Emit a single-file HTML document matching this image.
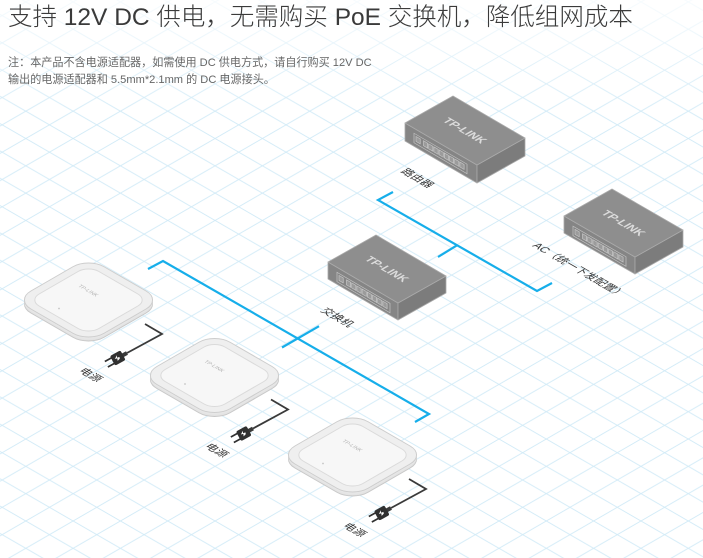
<!DOCTYPE html>
<html><head><meta charset="utf-8">
<style>
html,body{margin:0;padding:0;background:#fff;}
body{width:703px;height:558px;position:relative;overflow:hidden;font-family:"Liberation Sans","Noto Sans CJK SC",sans-serif;}
svg{position:absolute;left:0;top:0;}
.title{position:absolute;left:8px;top:1px;height:34px;line-height:34px;font-size:24.5px;font-weight:300;color:#3a3a3a;white-space:nowrap;}
.note{position:absolute;left:8px;top:54.6px;line-height:17.5px;font-size:11.1px;color:#666;white-space:nowrap;}
</style></head><body>
<svg width="703" height="558" viewBox="0 0 703 558" xmlns="http://www.w3.org/2000/svg">
<defs>
<pattern id="grid" patternUnits="userSpaceOnUse" x="25.8" y="1.9" width="47.32" height="27.32">
<g stroke="#d0eaf7" stroke-width="0.9" fill="none">
<line x1="-47.32" y1="-27.32" x2="94.64" y2="54.64"/>
<line x1="0" y1="-27.32" x2="94.64" y2="27.32"/>
<line x1="-47.32" y1="0" x2="47.32" y2="54.64"/>
<line x1="-47.32" y1="54.64" x2="94.64" y2="-27.32"/>
<line x1="-47.32" y1="27.32" x2="47.32" y2="-27.32"/>
<line x1="0" y1="54.64" x2="94.64" y2="0"/>
</g>
</pattern>
<linearGradient id="fade" x1="0" y1="0" x2="0" y2="1">
<stop offset="0" stop-color="#fff" stop-opacity="0.8"/>
<stop offset="1" stop-color="#fff" stop-opacity="0"/>
</linearGradient>
<g id="ports">
<rect x="9" y="5" width="53" height="9.5" fill="none" stroke="#c4c4c4" stroke-width="0.7"/>
<g fill="#9b9b9b" stroke="#cfcfcf" stroke-width="0.6">
<rect x="11" y="7" width="4.2" height="5"/>
<rect x="18.5" y="7" width="4.2" height="5"/>
<rect x="23.7" y="7" width="4.2" height="5"/>
<rect x="28.9" y="7" width="4.2" height="5"/>
<rect x="34.1" y="7" width="4.2" height="5"/>
<rect x="39.3" y="7" width="4.2" height="5"/>
<rect x="44.5" y="7" width="4.2" height="5"/>
<rect x="49.7" y="7" width="4.2" height="5"/>
<rect x="54.9" y="7" width="4.2" height="5"/>
</g>
</g>
<g id="ap">
<g transform="matrix(0.866,0.5,0.866,-0.5,0,4)">
<rect x="-42.25" y="-42.25" width="84.5" height="84.5" rx="18" fill="#e2e2e2" stroke="#c8c8c8" stroke-width="1" vector-effect="non-scaling-stroke"/>
</g>
<g transform="matrix(0.866,0.5,0.866,-0.5,0,3)"><rect x="-42.25" y="-42.25" width="84.5" height="84.5" rx="18" fill="#e4e4e4"/></g>
<g transform="matrix(0.866,0.5,0.866,-0.5,0,2)"><rect x="-42.25" y="-42.25" width="84.5" height="84.5" rx="18" fill="#e6e6e6"/></g>
<g transform="matrix(0.866,0.5,0.866,-0.5,0,1)"><rect x="-42.25" y="-42.25" width="84.5" height="84.5" rx="18" fill="#e8e8e8"/></g>
<g transform="matrix(0.866,0.5,0.866,-0.5,0,0)">
<rect x="-42.25" y="-42.25" width="84.5" height="84.5" rx="18" fill="#efefef" stroke="#cdcdcd" stroke-width="1" vector-effect="non-scaling-stroke"/>
<rect x="-34.5" y="-34.5" width="69" height="69" rx="12" fill="#f7f7f7" stroke="#dadada" stroke-width="1" vector-effect="non-scaling-stroke"/>
</g>
<text transform="matrix(0.866,0.5,-0.866,0.5,0,-9.5)" x="0" y="2" text-anchor="middle" font-family="Liberation Sans, sans-serif" font-size="5.5" fill="#b2b2b2">TP-LINK</text>
<circle cx="-29.5" cy="8.5" r="0.9" fill="#c4c4c4"/>
<polyline points="56.5,24 73.5,34 38.5,53" fill="none" stroke="#3a3a3a" stroke-width="1.8" stroke-linejoin="miter"/>
<g transform="translate(38.5,53) rotate(151.5)">
<rect x="0" y="-2" width="6" height="4" fill="#3a3a3a"/>
<rect x="4.5" y="-5.5" width="12" height="11" rx="2" fill="#303030"/>
<polygon points="9,-1.5 12,-2.5 11,0 13.5,0.5 10,2.8 11,0.6 8.5,0.2" fill="#fff"/>
<rect x="16" y="-4" width="7.5" height="1.7" fill="#303030"/>
<rect x="16" y="2.3" width="7.5" height="1.7" fill="#303030"/>
</g>
<text transform="matrix(0.866,0.5,-0.866,0.5,-10.5,71.3)" x="0" y="0" font-family="Liberation Sans, Noto Sans CJK SC, sans-serif" font-size="11" fill="#333">电源</text>
</g>
</defs>

<rect x="0" y="0" width="703" height="558" fill="url(#grid)"/>
<rect x="0" y="0" width="703" height="110" fill="url(#fade)"/>

<!-- blue connection lines -->
<g stroke="#16aeea" stroke-width="2.2" fill="none" stroke-linejoin="miter">
<polyline points="393,192 378,200 537,291 552,283"/>
<line x1="457" y1="245.3" x2="438" y2="257"/>
<polyline points="148,269 163,261 429,414 415,422"/>
<line x1="282" y1="347.5" x2="319" y2="326.2"/>
</g>

<!-- Router -->
<g stroke="#aaaaaa" stroke-width="0.8" stroke-linejoin="round">
<polygon points="405,123 477,165 477,183 405,141" fill="#858585"/>
<polygon points="477,165 525,138 525,156 477,183" fill="#7c7c7c"/>
<polygon points="405,123 453,96 525,138 477,165" fill="#8e8e8e"/>
</g>
<g transform="matrix(1,0.583,0,1,405,123)"><use href="#ports"/></g>
<text transform="matrix(0.864,0.504,-0.872,0.49,465,130.5)" x="0" y="4" text-anchor="middle" font-family="Liberation Sans, sans-serif" font-weight="bold" font-size="11.5" fill="#dcdcdc">TP-LINK</text>

<!-- Switch -->
<g stroke="#aaaaaa" stroke-width="0.8" stroke-linejoin="round">
<polygon points="328,262 398,303 398,320 328,279" fill="#858585"/>
<polygon points="398,303 446,276 446,293 398,320" fill="#7c7c7c"/>
<polygon points="328,262 376,235 446,276 398,303" fill="#8e8e8e"/>
</g>
<g transform="matrix(1,0.586,0,1,328,262)"><use href="#ports"/></g>
<text transform="matrix(0.864,0.504,-0.872,0.49,387,269)" x="0" y="4" text-anchor="middle" font-family="Liberation Sans, sans-serif" font-weight="bold" font-size="11.5" fill="#dcdcdc">TP-LINK</text>

<!-- AC -->
<g stroke="#aaaaaa" stroke-width="0.8" stroke-linejoin="round">
<polygon points="564,216 635,257 635,274 564,233" fill="#858585"/>
<polygon points="635,257 683,230 683,247 635,274" fill="#7c7c7c"/>
<polygon points="564,216 612,189 683,230 635,257" fill="#8e8e8e"/>
</g>
<g transform="matrix(1,0.577,0,1,564,216)"><use href="#ports"/></g>
<text transform="matrix(0.864,0.504,-0.872,0.49,623.5,223)" x="0" y="4" text-anchor="middle" font-family="Liberation Sans, sans-serif" font-weight="bold" font-size="11.5" fill="#dcdcdc">TP-LINK</text>

<!-- labels -->
<g font-family="Liberation Sans, Noto Sans CJK SC, sans-serif" font-size="11" fill="#333">
<text transform="matrix(0.866,0.5,-0.866,0.5,400,171.8)">路由器</text>
<text transform="matrix(0.866,0.5,-0.866,0.5,320,311)">交换机</text>
<text transform="matrix(0.866,0.5,-0.866,0.5,531.7,246)">AC（统一下发配置）</text>
</g>

<!-- APs -->
<use href="#ap" transform="translate(88.5,300)"/>
<use href="#ap" transform="translate(214.5,375.5)"/>
<use href="#ap" transform="translate(352.5,455)"/>
</svg>

<div class="title">支持 12V DC 供电，无需购买 PoE 交换机，降低组网成本</div>
<div class="note">注：本产品不含电源适配器，如需使用 DC 供电方式，请自行购买 12V DC<br>输出的电源适配器和 5.5mm*2.1mm 的 DC 电源接头。</div>
</body></html>
